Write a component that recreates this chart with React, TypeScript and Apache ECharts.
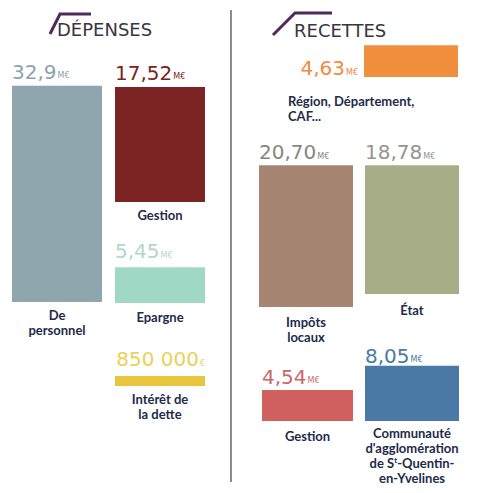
import React, { useEffect, useRef } from 'react';
import * as echarts from 'echarts';

// ---- Data ----
const depCategories = ['De\npersonnel', 'Gestion', 'Epargne', 'Intérêt de\nla dette'];
const depValues = [32.9, 17.52, 5.45, 0.85];
const depValueLabels = ['32,9', '17,52', '5,45', '850 000'];
const depUnits = ['M€', 'M€', 'M€', '€'];

const recCategories = [
  'Région, Département,\nCAF...',
  'Impôts\nlocaux',
  'État',
  'Gestion',
  "Communauté\nd'agglomération\nde S{sup|t}-Quentin-\nen-Yvelines",
];
const recValues = [4.63, 20.7, 18.78, 4.54, 8.05];
const recValueLabels = ['4,63', '20,70', '18,78', '4,54', '8,05'];
const recUnits = ['M€', 'M€', 'M€', 'M€', 'M€'];

const titles = ['DÉPENSES', 'RECETTES'];

// ---- Layout / styles ----
const DEP_SCALE = 6.57; // px per M€
const REC_SCALE = 6.85;

type Mode = 'topLeft' | 'topRight' | 'left';
interface Lay {
  left: number; width: number; base: number; color: string; valueColor: string;
  dy: number; margin: number; mode: Mode; minH?: number; showCat?: boolean;
}

const depLayout: Lay[] = [
  { left: 12, width: 90, base: 302, color: '#8fa6ae', valueColor: '#8ea2aa', dy: -4, margin: 5, mode: 'topLeft' },
  { left: 115, width: 90, base: 202, color: '#7b2423', valueColor: '#7a2322', dy: -4, margin: 5, mode: 'topLeft' },
  { left: 115, width: 90, base: 303, color: '#9fd9c6', valueColor: '#b3d6c9', dy: -6, margin: 6, mode: 'topLeft' },
  { left: 115, width: 90, base: 386, color: '#e7c53c', valueColor: '#ecd158', dy: -7, margin: 5, mode: 'topRight', minH: 10 },
];
const recLayout: Lay[] = [
  { left: 364, width: 94, base: 77, color: '#f08f3d', valueColor: '#ee8a3f', dy: 0, margin: 6, mode: 'left', showCat: false },
  { left: 259, width: 94, base: 307, color: '#a68572', valueColor: '#8a8580', dy: -3, margin: 7, mode: 'topLeft' },
  { left: 365, width: 94, base: 294, color: '#a7ae87', valueColor: '#95958d', dy: -3, margin: 8, mode: 'topLeft' },
  { left: 262, width: 91, base: 421, color: '#d1615e', valueColor: '#c9686a', dy: -3, margin: 7, mode: 'topLeft' },
  { left: 365, width: 94, base: 421, color: '#4979a4', valueColor: '#4e7aa0', dy: 0, margin: 4, mode: 'topLeft' },
];

const VALUE_FONT = 'DejaVu Sans';
const CAT_FONT = 'Lato';
const CAT_COLOR = '#1e2b4a';
const TITLE_COLOR = '#3b3442';
const DECOR_COLOR = '#4e2a5a';

function buildOption() {
  const grids: any[] = [];
  const xAxes: any[] = [];
  const yAxes: any[] = [];
  const series: any[] = [];

  const items = [
    ...depCategories.map((c, i) => ({ name: c, value: depValues[i], vl: depValueLabels[i], unit: depUnits[i], lay: depLayout[i], scale: DEP_SCALE })),
    ...recCategories.map((c, i) => ({ name: c, value: recValues[i], vl: recValueLabels[i], unit: recUnits[i], lay: recLayout[i], scale: REC_SCALE })),
  ];

  items.forEach((it, k) => {
    const L = it.lay;
    const H = L.base - 4;
    grids.push({ left: L.left, width: L.width, top: 4, height: H, containLabel: false });
    xAxes.push({
      type: 'category', gridIndex: k, data: [it.name],
      axisLine: { show: false }, axisTick: { show: false }, splitLine: { show: false },
      axisLabel: {
        show: L.showCat !== false, interval: 0, margin: L.margin,
        color: CAT_COLOR, fontFamily: CAT_FONT, fontWeight: 'bold', fontSize: 13, lineHeight: 15,
        rich: { sup: { fontSize: 8, fontFamily: CAT_FONT, fontWeight: 'bold', color: CAT_COLOR, padding: [0, 0, 6, 0] } },
      },
    });
    yAxes.push({ type: 'value', gridIndex: k, min: 0, max: H / it.scale, show: false, splitLine: { show: false } });

    const rich = {
      v: { fontSize: 20, fontFamily: VALUE_FONT, color: L.valueColor },
      u: { fontSize: 8, fontFamily: VALUE_FONT, color: L.valueColor, verticalAlign: 'bottom', padding: [0, 0, 2, 1] },
    };
    let label: any = { show: true, formatter: `{v|${it.vl}}{u|${it.unit}}`, rich };
    if (L.mode === 'topLeft') label = { ...label, position: [0, L.dy], align: 'left', verticalAlign: 'bottom' };
    else if (L.mode === 'topRight') label = { ...label, position: [L.width, L.dy], align: 'right', verticalAlign: 'bottom' };
    else label = { ...label, position: 'left', distance: 6, offset: [0, 7] };

    series.push({
      type: 'bar', xAxisIndex: k, yAxisIndex: k, data: [it.value], barWidth: '100%',
      barMinHeight: L.minH || 0, itemStyle: { color: L.color }, label,
      emphasis: { disabled: true }, silent: true,
    });
  });

  const graphic: any[] = [
    { type: 'line', shape: { x1: 231, y1: 10, x2: 231, y2: 482 }, style: { stroke: '#8c8c8c', lineWidth: 2 } },
    { type: 'polyline', shape: { points: [[50, 34], [60, 14], [91, 14]] }, style: { stroke: DECOR_COLOR, lineWidth: 3, fill: null } },
    { type: 'polyline', shape: { points: [[273, 35], [295, 13], [332, 13]] }, style: { stroke: DECOR_COLOR, lineWidth: 3, fill: null } },
    { type: 'text', left: 57, top: 20, style: { text: titles[0], fontFamily: VALUE_FONT, fontSize: 18, fill: TITLE_COLOR } },
    { type: 'text', left: 294, top: 21, style: { text: titles[1], fontFamily: VALUE_FONT, fontSize: 18, fill: TITLE_COLOR } },
    {
      type: 'text', left: 288, top: 93,
      style: { text: recCategories[0], fontFamily: CAT_FONT, fontWeight: 'bold', fontSize: 13, lineHeight: 15, fill: CAT_COLOR },
    },
  ];

  return { animation: false, backgroundColor: '#ffffff', grid: grids, xAxis: xAxes, yAxis: yAxes, series, graphic };
}

export default function App() {
  const ref = useRef<HTMLDivElement>(null);
  useEffect(() => {
    if (!ref.current) return;
    const chart = echarts.init(ref.current, undefined, { renderer: 'svg' });
    chart.setOption(buildOption());
    return () => chart.dispose();
  }, []);
  return <div ref={ref} style={{ position: 'fixed', left: 0, top: 0, width: 480, height: 493, background: '#fff' }} />;
}
